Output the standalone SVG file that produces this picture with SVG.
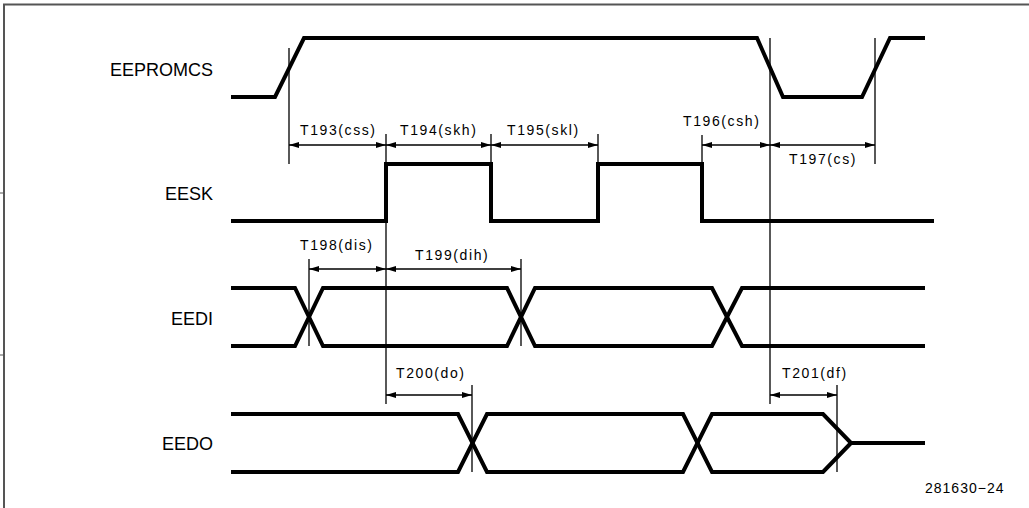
<svg xmlns="http://www.w3.org/2000/svg" width="1029" height="508" viewBox="0 0 1029 508">
<style>
.sig{fill:none;stroke:#000;stroke-width:4;stroke-linejoin:miter}
.thin{fill:none;stroke:#000;stroke-width:1.3}
.lbl{font-family:"Liberation Sans",Arial,sans-serif;font-size:18px;fill:#000;text-anchor:end}
.tl{font-family:"Liberation Sans",Arial,sans-serif;font-size:14px;fill:#000;letter-spacing:1.6px}
.fig{font-family:"Liberation Sans",Arial,sans-serif;font-size:14px;fill:#000;letter-spacing:1px}
</style>
<defs>
<marker id="ah" viewBox="0 0 10 6" refX="10" refY="3" markerWidth="10" markerHeight="6" markerUnits="userSpaceOnUse" orient="auto-start-reverse">
<path d="M0,0 L10,3 L0,6 Z" fill="#000"/>
</marker>
</defs>
<rect width="1029" height="508" fill="#fff"/>
<g id="frame" fill="none" stroke="#555" stroke-width="2">
<path d="M4,508 V4.5 H1029"/>
<path d="M0,193 H4 M0,355 H4" stroke-width="1"/>
</g>
<g id="labels">
<text class="lbl" x="213" y="76">EEPROMCS</text>
<text class="lbl" x="213" y="200">EESK</text>
<text class="lbl" x="213" y="325">EEDI</text>
<text class="lbl" x="213" y="450">EEDO</text>
</g>
<g id="EEPROMCS">
<path class="sig" d="M231,97 H275 L304,38 H757 L783,97 H862 L890,38 H925"/>
</g>
<g id="EESK">
<path class="sig" d="M231,221 H386 V164 H491 V221 H598 V164 H702 V221 H934"/>
</g>
<g id="EEDI">
<path class="sig" d="M231,288 H295 L323,346 H507 L535,288 H712 L742,346 H925"/>
<path class="sig" d="M231,346 H295 L323,288 H507 L535,346 H712 L742,288 H925"/>
</g>
<g id="EEDO">
<path class="sig" d="M231,414 H458 L487,472 H683 L712,414 H823 L851,443 H925"/>
<path class="sig" d="M231,472 H458 L487,414 H683 L712,472 H823 L851,443"/>
</g>
<g id="connectors">
<path class="thin" d="M289,48 V164 M386,134 V404 M491,134 V164 M598,134 V164 M702,135 V164 M770,38 V404 M875,38 V164"/>
<path class="thin" d="M309,259 V346 M521,259 V346 M472,385 V472 M837,385 V472"/>
<g class="thin" marker-start="url(#ah)" marker-end="url(#ah)">
<path d="M289,145 H386"/>
<path d="M386,145 H491"/>
<path d="M491,145 H598"/>
<path d="M702,145 H770"/>
<path d="M770,145 H875"/>
<path d="M309,269 H386"/>
<path d="M386,269 H521"/>
<path d="M386,395 H472"/>
<path d="M770,395 H837"/>
</g>
</g>
<g id="timing-labels">
<text class="tl" x="300" y="135">T193(css)</text>
<text class="tl" x="400" y="135">T194(skh)</text>
<text class="tl" x="507" y="135">T195(skl)</text>
<text class="tl" x="683" y="126">T196(csh)</text>
<text class="tl" x="789" y="164">T197(cs)</text>
<text class="tl" x="300" y="250">T198(dis)</text>
<text class="tl" x="415" y="260">T199(dih)</text>
<text class="tl" x="396" y="378">T200(do)</text>
<text class="tl" x="782" y="378">T201(df)</text>
</g>
<text class="fig" x="925" y="493">281630−24</text>
</svg>
